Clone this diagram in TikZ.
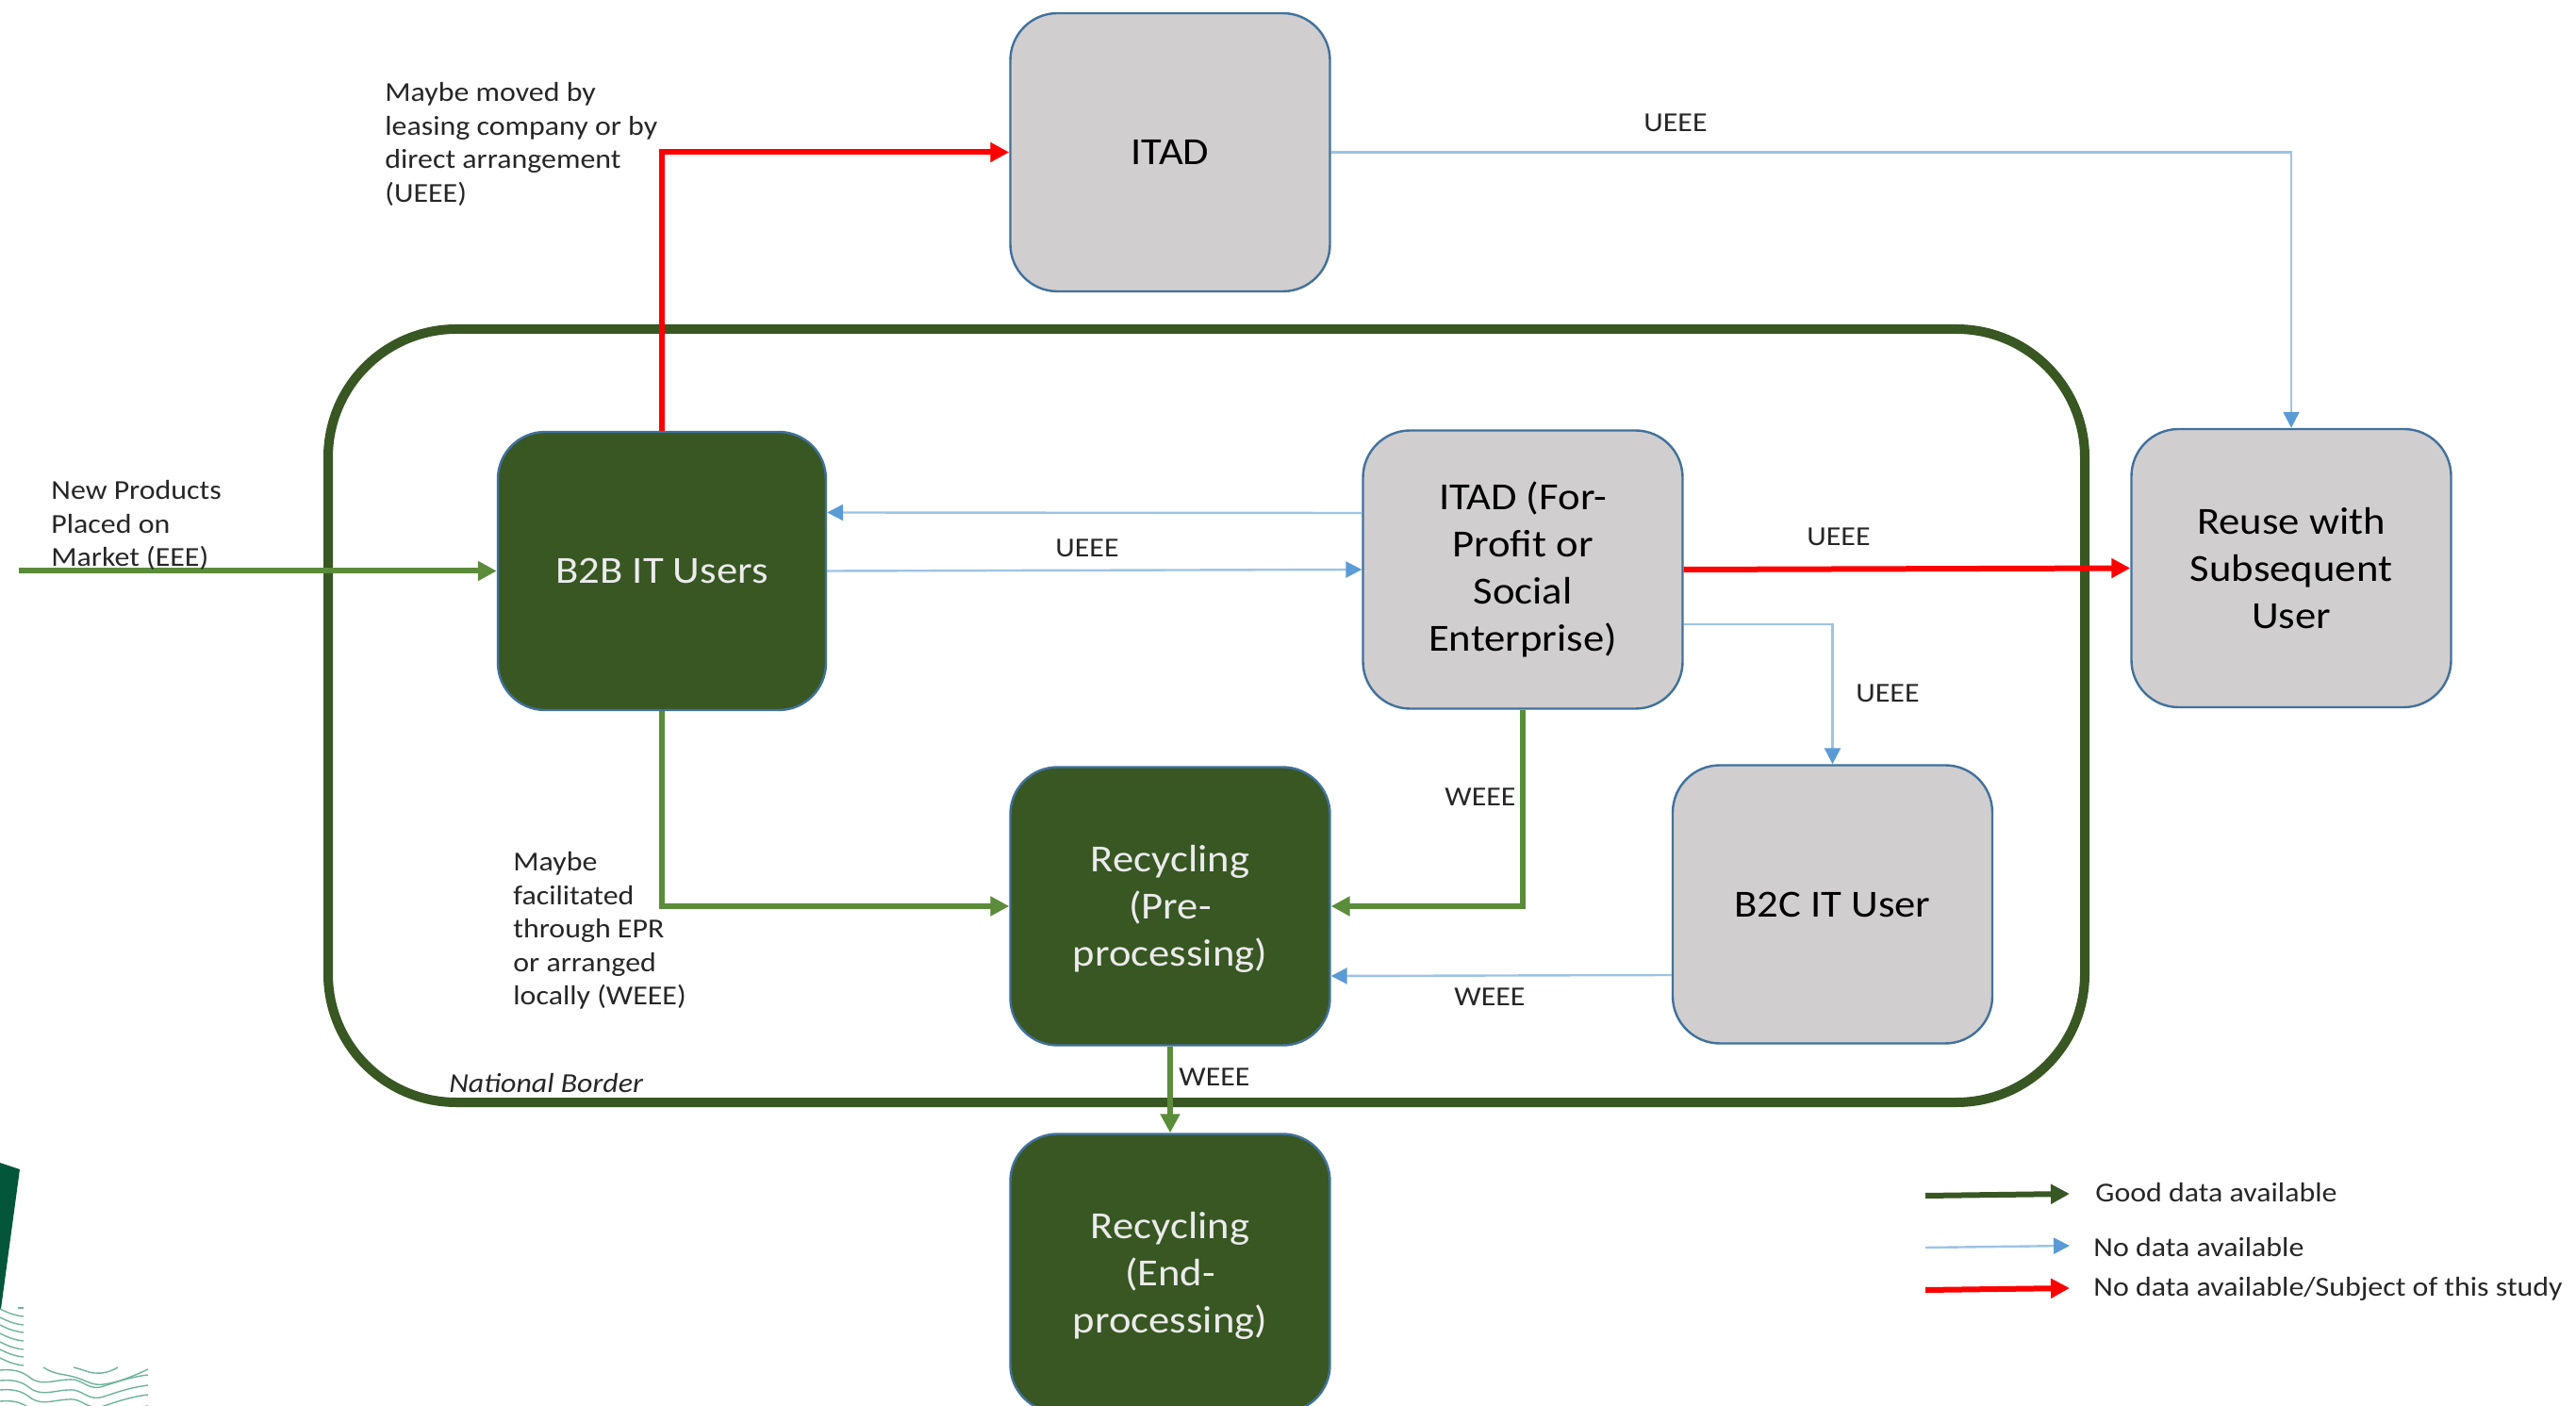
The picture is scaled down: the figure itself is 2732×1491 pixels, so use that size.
\documentclass[tikz,border=0pt]{standalone}
\usepackage{fontspec}
\setmainfont{Carlito}[FakeStretch=1.1]
\usetikzlibrary{arrows.meta}
\definecolor{boxgrey}{HTML}{D0CECE}
\definecolor{boxedge}{HTML}{41719C}
\definecolor{darkfill}{HTML}{385723}
\definecolor{midgreen}{HTML}{5B8C3A}
\definecolor{lineblue}{HTML}{9DC3E6}
\definecolor{headblue}{HTML}{5B9BD5}
\definecolor{flowred}{HTML}{FF0000}
\definecolor{inktext}{HTML}{262626}
\definecolor{logogreen}{HTML}{04563A}
\definecolor{wavegreen}{HTML}{6DB39B}
\tikzset{
  x=0.5pt,y=-0.5pt,
  basebox/.style={rounded corners=25pt,draw=boxedge,line width=1.2pt,inner sep=0pt,
    minimum width=169.5pt,minimum height=147.5pt,align=center,
    font=\fontsize{20.3}{24.9}\selectfont},
  greybox/.style={basebox,fill=boxgrey,text=black},
  greenbox/.style={basebox,fill=darkfill,text=white!92!black},
  smalltext/.style={font=\fontsize{14.5}{17.8}\selectfont,text=inktext,inner sep=0pt},
  leftnote/.style={smalltext,align=left,anchor=west},
  goodflow/.style={draw=midgreen,line width=3pt,-{Triangle[length=10pt,width=10pt,fill=midgreen]}},
  noflow/.style={draw=lineblue,line width=1.2pt,-{Triangle[length=8.5pt,width=8.5pt,fill=headblue,color=headblue]}},
  redflow/.style={draw=flowred,line width=3pt,-{Triangle[length=10pt,width=10pt,fill=flowred]}},
  keygood/.style={draw=darkfill,line width=3pt,-{Triangle[length=10pt,width=10pt,fill=darkfill]}},
  wave/.style={draw=wavegreen,line width=0.7pt}
}
\begin{document}
\begin{tikzpicture}
\useasboundingbox (0,0) rectangle (2732,1491);
\clip (0,0) rectangle (2732,1491);
% logo fragment
\fill[logogreen] (0,1233) -- (21,1240) -- (1,1388) -- (0,1388) -- cycle;
\foreach \yy in {1388,1397,1405,1414,1423,1431,1440} {
  \draw[wave] (0,\yy) .. controls (8,\yy+4) and (15,\yy+7) .. (25,\yy+8);
}
\draw[wave] (19,1387) -- (25,1387);
\foreach \yy in {1453,1464,1474,1486} {
  \draw[wave] (0,\yy) .. controls (12,\yy-1) and (22,\yy) .. (32,\yy+8)
     .. controls (45,\yy+18) and (60,\yy+9) .. (78,\yy+10)
     .. controls (90,\yy+12) and (95,\yy+22) .. (110,\yy+17)
     .. controls (125,\yy+12) and (140,\yy+7) .. (157,\yy+5);
}
\draw[wave] (46,1450) .. controls (58,1458) and (68,1457) .. (78,1460)
     .. controls (90,1463) and (98,1470) .. (110,1468)
     .. controls (125,1466) and (140,1460) .. (157,1452);
\draw[wave] (78,1450) .. controls (90,1453) and (98,1457) .. (102,1456)
     .. controls (110,1457) and (118,1454) .. (125,1450);
% national border
\draw[darkfill,line width=5pt,rounded corners=68pt] (348,349) rectangle (2211,1169);
% boxes
\node[greybox] (itad) at (1241,161.5) {ITAD};
\node[greybox] (itadfp) at (1615,604) {ITAD (For-\\Profit or\\Social\\Enterprise)};
\node[greybox] (reuse) at (2430,602.5) {Reuse with\\Subsequent\\User};
\node[greybox] (btc) at (1943.5,959) {B2C IT User};
\node[greenbox,minimum width=174pt] (btb) at (702,605.5) {B2B IT Users};
\node[greenbox] (pre) at (1241,961) {\rule{0pt}{16.8pt}Recycling\\(Pre-\\processing)};
\node[greenbox] (endp) at (1241,1350) {\rule{0pt}{16.8pt}Recycling\\(End-\\processing)};
% free ends
\coordinate (newstart) at (20,605.5);
\coordinate (k1a) at (2042,1268); \coordinate (k1b) at (2195,1266);
\coordinate (k2a) at (2042,1323); \coordinate (k2b) at (2195,1321);
\coordinate (k3a) at (2042,1368); \coordinate (k3b) at (2195,1366);
% connectors
\draw[goodflow] (newstart) -- (btb.west);
\draw[redflow] (btb.north) |- (itad.west);
\draw[noflow] (itad.east) -| (reuse.north);
\draw[noflow] ([yshift=30pt]itadfp.west) -- ([yshift=31pt]btb.east);
\draw[noflow] (btb.east) -- (itadfp.west);
\draw[redflow] (itadfp.east) -- (reuse.west);
\draw[noflow] ([yshift=-29pt]itadfp.east) -| (btc.north);
\draw[goodflow] (itadfp.south) |- (pre.east);
\draw[noflow] ([yshift=-37.5pt]btc.west) -- ([yshift=-37pt]pre.east);
\draw[goodflow] (btb.south) |- (pre.west);
\draw[goodflow] (pre.south) -- (endp.north);
\draw[keygood] (k1a) -- (k1b);
\draw[noflow] (k2a) -- (k2b);
\draw[redflow] (k3a) -- (k3b);
% labels
\node[leftnote] (n1) at (408,153) {Maybe moved by\\leasing company or by\\direct arrangement\\(UEEE)};
\node[leftnote] (n2) at (54,557) {New Products\\Placed on\\Market (EEE)};
\node[leftnote] (n3) at (544,987) {Maybe\\facilitated\\through EPR\\or arranged\\locally (WEEE)};
\node[smalltext] (u1) at (1777,130) {UEEE};
\node[smalltext] (u2) at (1153,581) {UEEE};
\node[smalltext] (u3) at (1950,569) {UEEE};
\node[smalltext] (u4) at (2002,735) {UEEE};
\node[smalltext] (w1) at (1570,845) {WEEE};
\node[smalltext] (w2) at (1580,1057) {WEEE};
\node[smalltext] (w3) at (1288,1142) {WEEE};
\node[leftnote,font=\fontsize{14.5}{17.8}\selectfont\itshape] (nb) at (476,1149) {National Border};
\node[leftnote] (l1) at (2222,1265) {Good data available};
\node[leftnote] (l2) at (2220,1323) {No data available};
\node[leftnote] (l3) at (2220,1367) {No data available/Subject of this study};
\end{tikzpicture}
\end{document}
